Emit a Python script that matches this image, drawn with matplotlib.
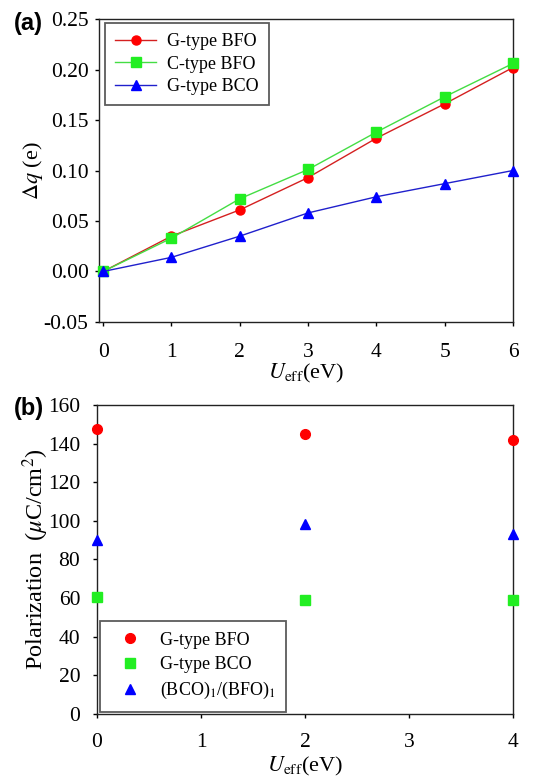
import matplotlib
matplotlib.use("Agg")
import matplotlib.pyplot as plt

plt.rcParams['font.family'] = ['Liberation Serif', 'DejaVu Serif']
plt.rcParams['mathtext.fontset'] = 'stix'

# panel (a): charge transfer vs U_eff
u_a = [0, 1, 2, 3, 4, 5, 6]
dq_g_bfo = [0.000, 0.035, 0.061, 0.093, 0.132, 0.166, 0.202]
dq_c_bfo = [0.000, 0.033, 0.072, 0.101, 0.138, 0.173, 0.206]
dq_g_bco = [0.000, 0.014, 0.035, 0.058, 0.074, 0.087, 0.100]

# panel (b): polarization vs U_eff
u_b = [0, 2, 4]
p_g_bfo = [147.8, 145.2, 142.1]
p_g_bco = [60.4, 59.1, 59.1]
p_super = [90.2, 98.3, 93.1]

fig = plt.figure(figsize=(5.37, 7.80), dpi=100)
ax1 = fig.add_axes([0.1844, 0.5872, 0.7709, 0.3884])
ax2 = fig.add_axes([0.1806, 0.0846, 0.7747, 0.3962])

tick_fs = 15.5
leg_fs = 13

# ---- (a)
ax1.plot(u_a, dq_g_bfo, '-o', color='#d42020', mfc='red', mec='red', ms=6.5, lw=1,
         label='G-type BFO', clip_on=False, zorder=3)
ax1.plot(u_a, dq_c_bfo, '-s', color='#44dd44', mfc='#22ee22', mec='#22ee22', ms=6.5, lw=1,
         label='C-type BFO', clip_on=False, zorder=3)
ax1.plot(u_a, dq_g_bco, '-^', color='#2020cc', mfc='blue', mec='blue', ms=6.5, lw=1,
         label='G-type BCO', clip_on=False, zorder=3)
ax1.set_xlim(-0.06, 6.0)
ax1.set_ylim(-0.05, 0.25)
ax1.set_xticks(u_a)
ax1.set_yticks([-0.05, 0.00, 0.05, 0.10, 0.15, 0.20, 0.25])
ax1.set_yticklabels(['-0.05', '0.00', '0.05', '0.10', '0.15', '0.20', '0.25'])
ax1.set_xlabel(r'$U_{\rm eff}$(eV)', fontsize=16, labelpad=0)
ax1.set_ylabel(r'$\Delta q$ (e)', fontsize=16, labelpad=-1)
ax1.tick_params(axis='x', pad=12)
ax1.tick_params(axis='y', pad=4.5)
leg1 = ax1.legend(loc='upper left', fontsize=leg_fs, frameon=True, fancybox=False,
                  edgecolor='#333333', borderpad=0.55, handlelength=2.3,
                  handletextpad=0.6, labelspacing=0.32, borderaxespad=0,
                  bbox_to_anchor=(0.0145, 0.987))
leg1.get_frame().set_linewidth(1.3)

# ---- (b)
ax2.plot(u_b, p_g_bfo, 'o', color='red', ms=7, ls='none', label='G-type BFO',
         clip_on=False, zorder=3)
ax2.plot(u_b, p_g_bco, 's', color='#22ee22', ms=6.5, ls='none', label='G-type BCO',
         clip_on=False, zorder=3)
ax2.plot(u_b, p_super, '^', color='blue', ms=7, ls='none',
         label=r'(BCO)$_1$/(BFO)$_1$', clip_on=False, zorder=3)
ax2.set_xlim(0, 4)
ax2.set_ylim(0, 160)
ax2.set_xticks([0, 1, 2, 3, 4])
ax2.set_yticks(range(0, 161, 20))
ax2.set_xlabel(r'$U_{\rm eff}$(eV)', fontsize=16, labelpad=2)
ax2.set_ylabel(r'Polarization  ($\mu$C/cm$^2$)', fontsize=17.5, labelpad=-2)
ax2.tick_params(axis='x', pad=11)
ax2.tick_params(axis='y', pad=9)
leg2 = ax2.legend(loc='lower left', fontsize=leg_fs, frameon=True, fancybox=False,
                  edgecolor='#333333', borderpad=0.6, handlelength=2.1,
                  handletextpad=0.6, labelspacing=0.4, borderaxespad=0,
                  bbox_to_anchor=(0.008, 0.006))
leg2.get_frame().set_linewidth(1.3)

for ax in (ax1, ax2):
    ax.tick_params(direction='out', length=3, width=1, labelsize=tick_fs,
                   top=False, right=False)
    for sp in ax.spines.values():
        sp.set_linewidth(1)
        sp.set_color('#222222')

fig.text(0.026, 0.961, '(a)', fontsize=17, fontweight='bold', family='Liberation Sans')
fig.text(0.026, 0.468, '(b)', fontsize=17, fontweight='bold', family='Liberation Sans')

fig.savefig('out.png', dpi=100)
